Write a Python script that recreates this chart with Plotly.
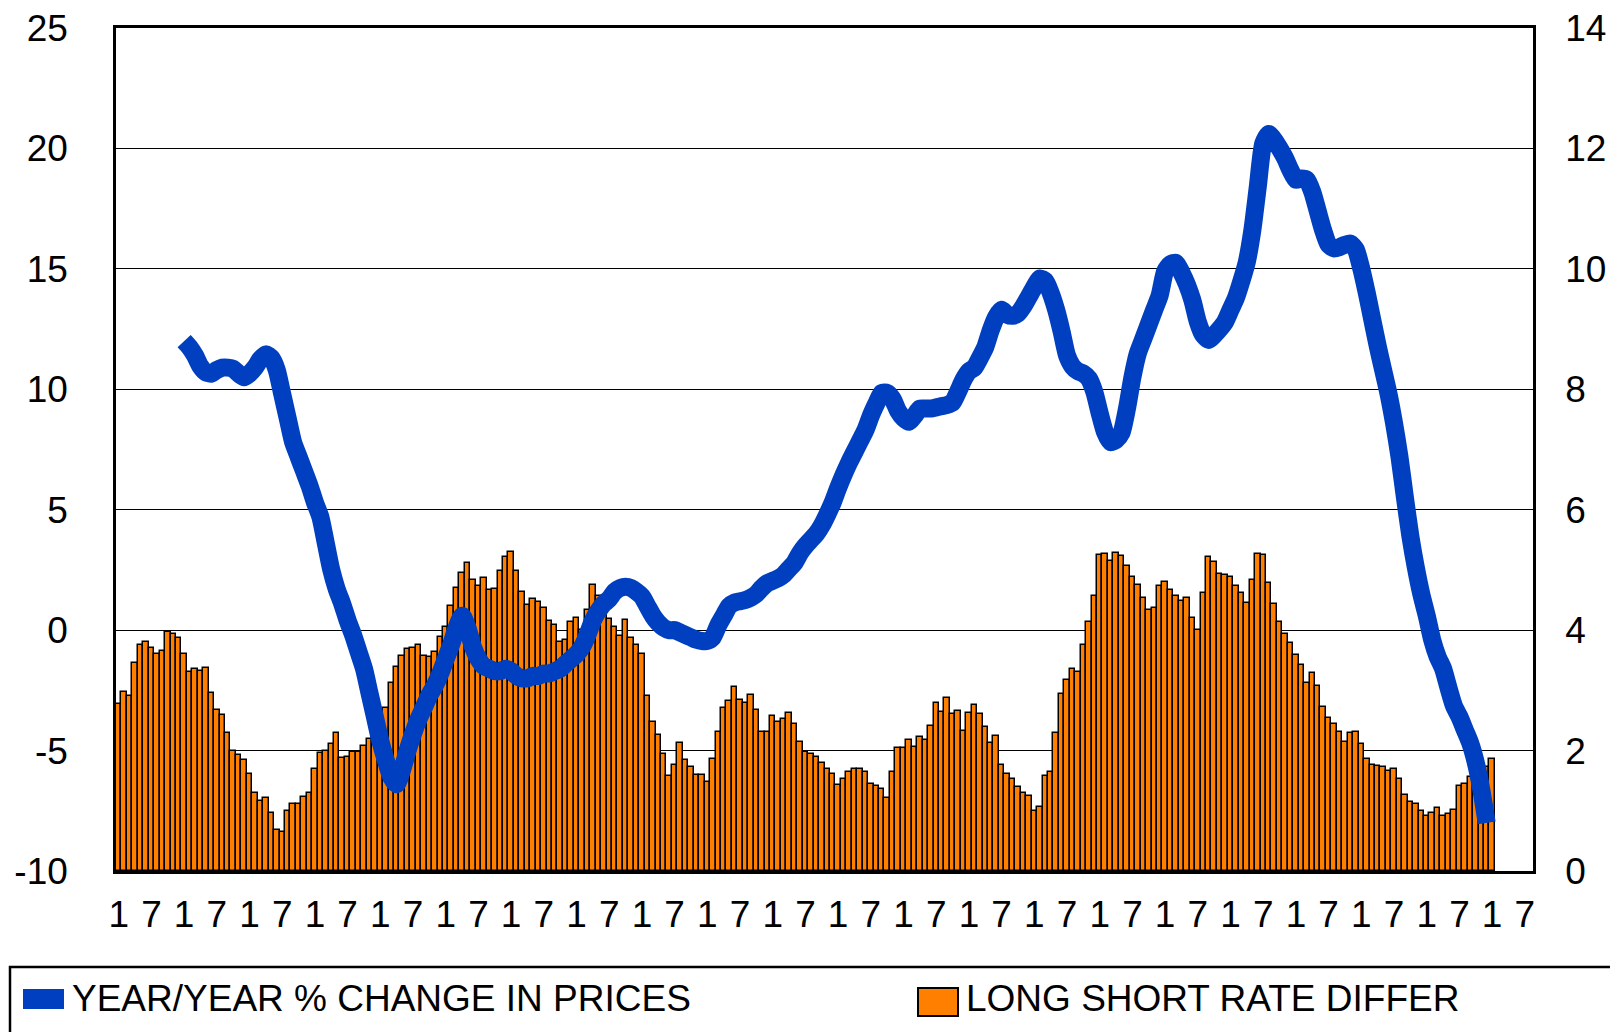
#%%
from plotly import graph_objects as go

#%%
# data: monthly, tick labels mark January (1) and July (7)
n_months = 260
tick_labels = ["1", "7"] * 22
left_ticks = [-10, -5, 0, 5, 10, 15, 20, 25]
left_tick_labels = ["-10", "-5", "0", "5", "10", "15", "20", "25"]

# long/short rate difference (right axis), one bar per month from month 0
rate_diff = [
    2.78, 2.98, 2.91, 3.46, 3.75, 3.80, 3.70, 3.60, 3.65, 3.97,
    3.94, 3.87, 3.60, 3.31, 3.35, 3.32, 3.37, 2.95, 2.67, 2.59,
    2.29, 1.99, 1.92, 1.85, 1.61, 1.29, 1.17, 1.21, 0.96, 0.68,
    0.64, 1.00, 1.11, 1.11, 1.23, 1.30, 1.69, 1.96, 1.99, 2.11,
    2.30, 1.88, 1.89, 1.98, 1.98, 2.07, 2.19, 2.30, 2.45, 2.70,
    3.12, 3.38, 3.57, 3.68, 3.71, 3.75, 3.57, 3.55, 3.64, 3.89,
    4.06, 4.40, 4.70, 4.95, 5.11, 4.84, 4.74, 4.87, 4.66, 4.68,
    4.99, 5.21, 5.29, 4.99, 4.64, 4.42, 4.51, 4.47, 4.37, 4.15,
    4.09, 3.81, 3.83, 4.14, 4.20, 4.01, 4.33, 4.75, 4.57, 4.48,
    4.18, 4.06, 3.90, 4.17, 3.87, 3.75, 3.61, 2.91, 2.48, 2.26,
    1.94, 1.58, 1.76, 2.13, 1.85, 1.72, 1.59, 1.60, 1.48, 1.86,
    2.31, 2.71, 2.83, 3.05, 2.84, 2.79, 2.93, 2.68, 2.31, 2.31,
    2.57, 2.48, 2.52, 2.62, 2.44, 2.14, 1.98, 1.94, 1.89, 1.79,
    1.70, 1.61, 1.43, 1.53, 1.64, 1.70, 1.70, 1.64, 1.44, 1.41,
    1.37, 1.22, 1.64, 2.04, 2.04, 2.17, 2.06, 2.23, 2.18, 2.41,
    2.79, 2.64, 2.87, 2.60, 2.65, 2.33, 2.62, 2.76, 2.60, 2.39,
    2.13, 2.25, 1.76, 1.61, 1.53, 1.39, 1.29, 1.24, 0.99, 1.06,
    1.57, 1.64, 2.29, 2.94, 3.18, 3.35, 3.31, 3.75, 4.13, 4.56,
    5.25, 5.26, 5.15, 5.28, 5.23, 5.06, 4.89, 4.75, 4.53, 4.34,
    4.36, 4.73, 4.80, 4.67, 4.56, 4.49, 4.53, 4.20, 4.00, 4.62,
    5.22, 5.13, 4.94, 4.92, 4.89, 4.73, 4.62, 4.45, 4.83, 5.26,
    5.25, 4.79, 4.44, 4.13, 3.94, 3.79, 3.58, 3.42, 3.13, 3.29,
    3.07, 2.72, 2.54, 2.44, 2.31, 2.15, 2.29, 2.31, 2.11, 1.86,
    1.76, 1.74, 1.72, 1.66, 1.70, 1.53, 1.27, 1.15, 1.11, 0.99,
    0.91, 0.97, 1.04, 0.91, 0.94, 1.01, 1.42, 1.44, 1.56, 1.61,
    1.64, 1.72, 1.86,
]

# year/year % change in prices (left axis), starts at month 12
price_start = 12
price_change = [
    12.0, 11.75, 11.4, 10.95, 10.7, 10.65, 10.8, 10.9, 10.9, 10.85,
    10.65, 10.5, 10.65, 10.9, 11.25, 11.45, 11.3, 10.8, 9.8, 8.8,
    7.8, 7.2, 6.6, 6.0, 5.3, 4.7, 3.6, 2.5, 1.7, 1.1,
    0.4, -0.2, -0.9, -1.6, -2.6, -3.6, -4.6, -5.4, -6.1, -6.4,
    -5.8, -5.0, -4.3, -3.7, -3.2, -2.7, -2.3, -1.8, -1.2, -0.6,
    0.1, 0.6, 0.1, -0.7, -1.2, -1.5, -1.6, -1.7, -1.7, -1.6,
    -1.7, -1.9, -2.0, -2.0, -1.9, -1.9, -1.8, -1.8, -1.7, -1.6,
    -1.4, -1.2, -1.0, -0.7, -0.2, 0.4, 0.8, 1.1, 1.3, 1.6,
    1.75, 1.8, 1.75, 1.6, 1.4, 1.0, 0.6, 0.3, 0.1, 0.0,
    0.0, -0.1, -0.2, -0.3, -0.4, -0.45, -0.45, -0.3, 0.2, 0.6,
    1.0, 1.15, 1.2, 1.25, 1.35, 1.5, 1.75, 1.95, 2.05, 2.15,
    2.3, 2.55, 2.8, 3.2, 3.5, 3.75, 4.0, 4.35, 4.8, 5.3,
    5.9, 6.45, 6.95, 7.4, 7.85, 8.3, 8.9, 9.4, 9.85, 9.85,
    9.6, 9.1, 8.8, 8.65, 8.9, 9.2, 9.2, 9.2, 9.25, 9.3,
    9.35, 9.45, 9.9, 10.4, 10.75, 10.9, 11.3, 11.75, 12.45, 13.0,
    13.3, 13.1, 13.05, 13.15, 13.45, 13.85, 14.25, 14.6, 14.5, 14.0,
    13.3, 12.4, 11.4, 10.95, 10.75, 10.65, 10.45, 9.9, 9.0, 8.2,
    7.8, 7.9, 8.2, 9.2, 10.5, 11.5, 12.1, 12.7, 13.3, 13.9,
    14.9, 15.2, 15.25, 14.85, 14.35, 13.7, 12.8, 12.25, 12.05, 12.25,
    12.5, 12.8, 13.3, 13.8, 14.5, 15.3, 16.6, 18.4, 20.2, 20.6,
    20.35, 20.0, 19.6, 19.1, 18.7, 18.75, 18.7, 18.2, 17.4, 16.6,
    16.0, 15.85, 15.9, 16.0, 16.05, 15.8, 15.0, 14.0, 12.9, 11.8,
    10.8, 9.8, 8.6, 7.2, 5.5, 3.9, 2.6, 1.5, 0.6, -0.4,
    -1.1, -1.6, -2.4, -3.15, -3.6, -4.15, -4.7, -5.5, -6.6, -8.0,
]

#%%
# the page body keeps the browser's 8px margin, so the figure is 8px smaller
# and page positions below are shifted back by that much
OFF = 8
W, H = 1618 - OFF, 1032 - OFF
M = dict(l=108, r=85, t=20, b=161)
FONT = "Liberation Sans, Arial, sans-serif"
FS = 37
BLUE = "#0040C0"
ORANGE = "#FF8000"


def px_to_paper(x, y):
    """ convert page pixels (screenshot coords) to paper coordinates """
    x, y = x - OFF, y - OFF
    pw = W - M["l"] - M["r"]
    ph = H - M["t"] - M["b"]
    return (x - M["l"]) / pw, (H - M["b"] - y) / ph


fig = go.Figure()

fig.add_trace(
    go.Bar(
        x=list(range(len(rate_diff))),
        y=rate_diff,
        name="LONG SHORT RATE DIFFER",
        marker=dict(color=ORANGE, line=dict(color="black", width=1.5)),
        yaxis="y",
        showlegend=False,
    )
)

fig.add_trace(
    go.Scatter(
        x=[price_start + k for k in range(len(price_change))],
        y=price_change,
        name="YEAR/YEAR % CHANGE IN PRICES",
        mode="lines",
        line=dict(color=BLUE, width=18, shape="spline", smoothing=0.6),
        yaxis="y2",
        showlegend=False,
    )
)

axis_font = dict(family=FONT, size=FS, color="black")

fig.update_layout(
    width=W,
    height=H,
    margin=M,
    paper_bgcolor="white",
    plot_bgcolor="white",
    bargap=0,
    font=dict(family=FONT, color="black"),
    xaxis=dict(
        range=[-0.5, n_months - 0.5],
        tickvals=list(range(0, n_months, 6))[: len(tick_labels)],
        ticktext=tick_labels,
        tickfont=axis_font,
        ticks="",
        ticklabelstandoff=9,
        automargin=False,
        showgrid=False,
        zeroline=False,
        showline=True,
        linecolor="black",
        linewidth=2.5,
        mirror=True,
    ),
    yaxis=dict(
        side="right",
        range=[0, 14],
        dtick=2,
        tickfont=axis_font,
        ticks="",
        ticklabelstandoff=22,
        ticklabeloverflow="allow",
        automargin=False,
        showgrid=True,
        gridcolor="black",
        gridwidth=1.3,
        zeroline=False,
        showline=True,
        linecolor="black",
        linewidth=2.5,
    ),
    yaxis2=dict(
        overlaying="y",
        side="left",
        range=[-10, 25],
        tickvals=left_ticks,
        ticktext=left_tick_labels,
        tickfont=axis_font,
        ticks="",
        ticklabelstandoff=38,
        ticklabeloverflow="allow",
        automargin=False,
        showgrid=False,
        zeroline=False,
        showline=True,
        linecolor="black",
        linewidth=2.5,
    ),
)

#%%
# legend drawn by hand: framed box running off the page, wide swatches
x0, y0 = px_to_paper(10, 967)
x1, y1 = px_to_paper(1640, 1060)
shapes = [dict(type="rect", xref="paper", yref="paper", x0=x0, y0=y0, x1=x1, y1=y1,
               line=dict(color="black", width=2.5), fillcolor="rgba(0,0,0,0)")]

bx0, by0 = px_to_paper(23, 989)
bx1, by1 = px_to_paper(64, 1009)
shapes.append(dict(type="rect", xref="paper", yref="paper", x0=bx0, y0=by0, x1=bx1, y1=by1,
                   line=dict(width=0), fillcolor=BLUE))

ox0, oy0 = px_to_paper(918, 988)
ox1, oy1 = px_to_paper(958, 1016)
shapes.append(dict(type="rect", xref="paper", yref="paper", x0=ox0, y0=oy0, x1=ox1, y1=oy1,
                   line=dict(color="black", width=2), fillcolor=ORANGE))

tx1, ty = px_to_paper(70, 998)
tx2, _ = px_to_paper(964, 998)
annotations = [
    dict(text="YEAR/YEAR % CHANGE IN PRICES", x=tx1, y=ty, xref="paper", yref="paper",
         xanchor="left", yanchor="middle", showarrow=False,
         font=dict(family=FONT, size=FS, color="black")),
    dict(text="LONG SHORT RATE DIFFER", x=tx2, y=ty, xref="paper", yref="paper",
         xanchor="left", yanchor="middle", showarrow=False,
         font=dict(family=FONT, size=FS, color="black")),
]

fig.update_layout(shapes=shapes, annotations=annotations)

fig.write_html("out.html")
